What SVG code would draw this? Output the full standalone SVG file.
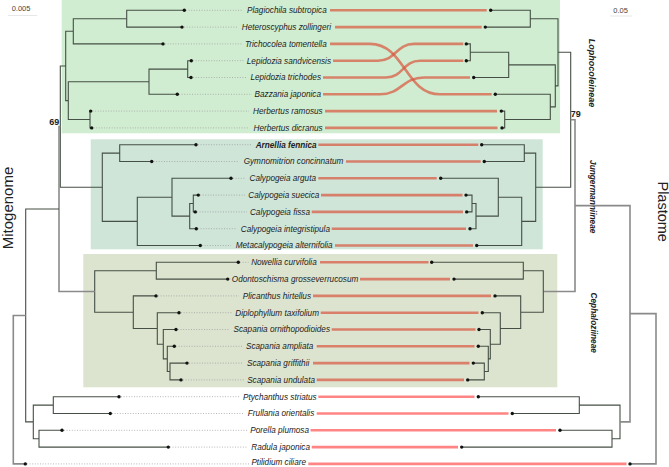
<svg xmlns="http://www.w3.org/2000/svg" width="669" height="467" viewBox="0 0 669 467">
<style>
.bg{stroke:none}
.tr{fill:none;stroke:#454f45;stroke-width:1.1}
.tg{fill:none;stroke:#8a8a8a;stroke-width:1.6}
.rl{fill:none;stroke:#d9563f;stroke-opacity:.7;stroke-width:2.6}
.ro{fill:none;stroke:#ff5c5c;stroke-opacity:.75;stroke-width:2.6}
.dl{stroke:#9a9a9a;stroke-width:.7;stroke-dasharray:1 1.6}
.lb{font-family:"Liberation Sans",Arial,sans-serif;font-size:8.2px;font-style:italic;fill:#222;text-anchor:end}
.gl{font-family:"Liberation Sans",Arial,sans-serif;font-style:italic;font-weight:bold;fill:#222;text-anchor:middle}
.ax{font-family:"Liberation Sans",Arial,sans-serif;font-size:15px;fill:#222;text-anchor:middle}
.sc{font-family:"Liberation Sans",Arial,sans-serif;font-size:7.5px;fill:#444}
.bs{font-family:"Liberation Sans",Arial,sans-serif;font-size:9px;font-weight:bold;fill:#222}
</style>
<defs>
<circle id="d" r="1.7" fill="#111"/>
</defs>
<rect width="669" height="467" fill="#fff"/>
<g id="clades">
<rect class="bg" x="61.7" y="0" width="498.3" height="133.3" fill="#d1edd1"/>
<rect class="bg" x="90.7" y="139.3" width="452" height="110" fill="#cfe5d8"/>
<rect class="bg" x="83.3" y="254" width="474" height="133.3" fill="#dce4cf"/>
</g>
<g id="scales">
<text class="sc" x="11.7" y="10.8">0.005</text>
<line x1="8" y1="15.5" x2="37.3" y2="15.5" stroke="#ddd" stroke-width=".7"/>
<text class="sc" x="613.3" y="13">0.05</text>
<line x1="610" y1="16" x2="632" y2="16" stroke="#ddd" stroke-width=".7"/>
</g>
<g id="axis-labels">
<text class="ax" transform="translate(12.7,208) rotate(-90)">Mitogenome</text>
<text class="ax" style="font-size:14.5px" transform="translate(657.5,211.7) rotate(90)">Plastome</text>
<text class="gl" style="font-size:9px" transform="translate(589.3,73) rotate(90)">Lophocoleineae</text>
<text class="gl" style="font-size:8.3px" transform="translate(590.3,196.7) rotate(90)">Jungermanniineae</text>
<text class="gl" style="font-size:8.3px" transform="translate(591.3,322.7) rotate(90)">Cephaloziineae</text>
<text class="bs" x="49.3" y="124.5">69</text>
<text class="bs" x="570.7" y="117.3">79</text>
</g>
<g id="connectors">
<g id="mito-tree">
<path class="tr" d="M184.3,10.3H126.7V27.1H182M126.7,18.7H73.3V43.9H163M191.3,60.7H187.7V77.5H191M187.7,69.1H149V94.3H177.3M90.7,111.1H90V127.9H91.7M149,81.7H68.3V119.5H90M73.3,31.3H65.7V100.6H68.3M65.7,66H60.3V187.2H102.3"/>
<path class="tr" d="M196,144.7H119.7V161.5H151.7M198.3,195.1H193.3V211.9H195.3M193.3,203.5H189.7V228.7H196.3M231,178.3H172V216.1H189.7M172,197.2H137.3V245.5H200.3M119.7,153.1H102.3V221.35H137.3"/>
<path class="tr" d="M238.3,262.3H156.3V279.1H227.7M187,363.1H170V379.9H181M174.3,346.3H167.3V371.5H170M176,329.5H163.3V358.9H167.3M179,312.7H157.3V344.2H163.3M156,295.9H133.3V328.45H157.3M156.3,270.7H94.7V312.2H133.3"/>
<path class="tg" d="M60.3,126.6H59V291.45H94.7"/>
<path class="tr" d="M119,396.7H53.3V413.5H110.3M62,430.3H39V447.1H168.3M53.3,405.1H33.3V438.7H39M59,209H25.7V421.9H33.3"/>
<path class="tg" d="M25.7,315.45H13.3V463.9H25.3"/>
</g>
<g id="plastome-tree">
<path class="tr" d="M490.7,10.3H530.3V27.1H485.3M466.3,43.9H470.3V60.7H466.3M470.3,52.3H508.7V77.5H473.7M501.3,111.1H504.7V127.9H502M495.3,94.3H550.3V119.5H504.7M508.7,64.9H555.3V106.9H550.3M530.3,18.7H558V85.9H555.3M558,52.3H570.7V187.2H535.7"/>
<path class="tg" d="M570.7,119.8H575V291.45H543.3"/>
<path class="tr" d="M481.7,144.7H524.3V161.5H484.3M466,195.1H472V211.9H466.7M472,203.5H476V228.7H470M440.7,178.3H498.3V216.1H476M498.3,197.2H521.7V245.5H476.7M524.3,153.1H535.7V221.35H521.7"/>
<path class="tr" d="M431.7,262.3H523.3V279.1H454M473.3,363.1H484.3V379.9H467.7M478.3,346.3H488.3V371.5H484.3M479,329.5H490.3V358.9H488.3M482.3,312.7H500.3V344.2H490.3M495,295.9H520.7V328.45H500.3M523.3,270.7H543.3V312.2H520.7"/>
<path class="tr" d="M478.3,396.7H579.3V413.5H512.3M560,430.3H612V447.1H461.7M579.3,405.1H620V438.7H612"/>
<path class="tg" d="M575,205.65H630V421.9H620M630,313.6H656V463.9H630"/>
</g>
<g id="links">
<path class="rl" d="M330,10.3H486.7"/>
<path class="rl" d="M335,27.1H481.7"/>
<path class="rl" d="M330,43.9H370C405,43.9 405,94.3 440,94.3H491.7"/>
<path class="rl" d="M333,60.7H378C396,60.7 396,43.9 414,43.9H463.3"/>
<path class="rl" d="M323,77.5H386C403,77.5 403,60.7 420,60.7H463.3"/>
<path class="rl" d="M323,94.3H380C402,94.3 402,77.5 424,77.5H470"/>
<path class="rl" d="M325,111.1H497"/>
<path class="rl" d="M325,127.9H497.5"/>
<path class="rl" d="M318.3,144.7H478.3"/>
<path class="rl" d="M346,161.5H480.7"/>
<path class="rl" d="M318.3,178.3H436.7"/>
<path class="rl" d="M321,195.1H462.5"/>
<path class="rl" d="M311.7,211.9H463"/>
<path class="rl" d="M331.7,228.7H466"/>
<path class="rl" d="M335,245.5H473"/>
<path class="rl" d="M320,262.3H428.5"/>
<path class="rl" d="M360,279.1H450"/>
<path class="rl" d="M313,295.9H491"/>
<path class="rl" d="M320.7,312.7H478.5"/>
<path class="rl" d="M331.7,329.5H475.5"/>
<path class="rl" d="M316.7,346.3H474.5"/>
<path class="rl" d="M313,363.1H469.5"/>
<path class="rl" d="M316.7,379.9H464"/>
<path class="ro" d="M318.3,396.7H474.5"/>
<path class="ro" d="M316.7,413.5H508.5"/>
<path class="ro" d="M310.5,430.3H556"/>
<path class="ro" d="M311.7,447.1H458"/>
<path class="ro" d="M308.3,463.9H626.5"/>
</g>
</g>
<g id="taxa">
<g id="t00"><line class="dl" x1="186" y1="10.3" x2="243" y2="10.3"/><use href="#d" x="184.3" y="10.3"/><use href="#d" x="490.7" y="10.3"/><text class="lb" x="326.7" y="13.2">Plagiochila subtropica</text></g>
<g id="t01"><line class="dl" x1="184" y1="27.1" x2="238" y2="27.1"/><use href="#d" x="182" y="27.1"/><use href="#d" x="485.3" y="27.1"/><text class="lb" x="331" y="30">Heteroscyphus zollingeri</text></g>
<g id="t02"><line class="dl" x1="165" y1="43.9" x2="242" y2="43.9"/><use href="#d" x="163" y="43.9"/><use href="#d" x="495.3" y="94.3"/><text class="lb" x="326.7" y="46.8">Trichocolea tomentella</text></g>
<g id="t03"><line class="dl" x1="193" y1="60.7" x2="244" y2="60.7"/><use href="#d" x="191.3" y="60.7"/><use href="#d" x="466.3" y="43.9"/><text class="lb" x="331" y="63.6">Lepidozia sandvicensis</text></g>
<g id="t04"><line class="dl" x1="193" y1="77.5" x2="247" y2="77.5"/><use href="#d" x="191" y="77.5"/><use href="#d" x="466.3" y="60.7"/><text class="lb" x="321" y="80.4">Lepidozia trichodes</text></g>
<g id="t05"><line class="dl" x1="179" y1="94.3" x2="252" y2="94.3"/><use href="#d" x="177.3" y="94.3"/><use href="#d" x="473.7" y="77.5"/><text class="lb" x="321" y="97.2">Bazzania japonica</text></g>
<g id="t06"><line class="dl" x1="92.5" y1="111.1" x2="249" y2="111.1"/><use href="#d" x="90.7" y="111.1"/><use href="#d" x="501.3" y="111.1"/><text class="lb" x="322.7" y="114">Herbertus ramosus</text></g>
<g id="t07"><line class="dl" x1="93.5" y1="127.9" x2="249" y2="127.9"/><use href="#d" x="91.7" y="127.9"/><use href="#d" x="502" y="127.9"/><text class="lb" x="322.7" y="130.8">Herbertus dicranus</text></g>
<g id="t08"><line class="dl" x1="198" y1="144.7" x2="252" y2="144.7"/><use href="#d" x="196" y="144.7"/><use href="#d" x="481.7" y="144.7"/><text class="lb" x="316.7" y="147.6" font-weight="bold">Arnellia fennica</text></g>
<g id="t09"><line class="dl" x1="153.5" y1="161.5" x2="239" y2="161.5"/><use href="#d" x="151.7" y="161.5"/><use href="#d" x="484.3" y="161.5"/><text class="lb" x="343.3" y="164.4">Gymnomitrion concinnatum</text></g>
<g id="t10"><line class="dl" x1="233" y1="178.3" x2="245" y2="178.3"/><use href="#d" x="231" y="178.3"/><use href="#d" x="440.7" y="178.3"/><text class="lb" x="316" y="181.2">Calypogeia arguta</text></g>
<g id="t11"><line class="dl" x1="200" y1="195.1" x2="245" y2="195.1"/><use href="#d" x="198.3" y="195.1"/><use href="#d" x="466" y="195.1"/><text class="lb" x="319.3" y="198">Calypogeia suecica</text></g>
<g id="t12"><line class="dl" x1="197" y1="211.9" x2="247" y2="211.9"/><use href="#d" x="195.3" y="211.9"/><use href="#d" x="466.7" y="211.9"/><text class="lb" x="310" y="214.8">Calypogeia fissa</text></g>
<g id="t13"><line class="dl" x1="198" y1="228.7" x2="236" y2="228.7"/><use href="#d" x="196.3" y="228.7"/><use href="#d" x="470" y="228.7"/><text class="lb" x="330" y="231.6">Calypogeia integristipula</text></g>
<g id="t14"><line class="dl" x1="202" y1="245.5" x2="231" y2="245.5"/><use href="#d" x="200.3" y="245.5"/><use href="#d" x="476.7" y="245.5"/><text class="lb" x="332.7" y="248.4">Metacalypogeia alternifolia</text></g>
<g id="t15"><line class="dl" x1="240" y1="262.3" x2="248.5" y2="262.3"/><use href="#d" x="238.3" y="262.3"/><use href="#d" x="431.7" y="262.3"/><text class="lb" x="316.7" y="265.2">Nowellia curvifolia</text></g>
<g id="t16"><line class="dl" x1="229.5" y1="279.1" x2="231" y2="279.1"/><use href="#d" x="227.7" y="279.1"/><use href="#d" x="454" y="279.1"/><text class="lb" x="358.3" y="282">Odontoschisma grosseverrucosum</text></g>
<g id="t17"><line class="dl" x1="158" y1="295.9" x2="239" y2="295.9"/><use href="#d" x="156" y="295.9"/><use href="#d" x="495" y="295.9"/><text class="lb" x="311" y="298.8">Plicanthus hirtellus</text></g>
<g id="t18"><line class="dl" x1="181" y1="312.7" x2="232.5" y2="312.7"/><use href="#d" x="179" y="312.7"/><use href="#d" x="482.3" y="312.7"/><text class="lb" x="319" y="315.6">Diplophyllum taxifolium</text></g>
<g id="t19"><line class="dl" x1="178" y1="329.5" x2="229" y2="329.5"/><use href="#d" x="176" y="329.5"/><use href="#d" x="479" y="329.5"/><text class="lb" x="330" y="332.4">Scapania ornithopodioides</text></g>
<g id="t20"><line class="dl" x1="176" y1="346.3" x2="243" y2="346.3"/><use href="#d" x="174.3" y="346.3"/><use href="#d" x="478.3" y="346.3"/><text class="lb" x="313.3" y="349.2">Scapania ampliata</text></g>
<g id="t21"><line class="dl" x1="189" y1="363.1" x2="243.5" y2="363.1"/><use href="#d" x="187" y="363.1"/><use href="#d" x="473.3" y="363.1"/><text class="lb" x="309.3" y="366">Scapania griffithii</text></g>
<g id="t22"><line class="dl" x1="183" y1="379.9" x2="244" y2="379.9"/><use href="#d" x="181" y="379.9"/><use href="#d" x="467.7" y="379.9"/><text class="lb" x="315" y="382.8">Scapania undulata</text></g>
<g id="t23"><line class="dl" x1="121" y1="396.7" x2="239" y2="396.7"/><use href="#d" x="119" y="396.7"/><use href="#d" x="478.3" y="396.7"/><text class="lb" x="316.7" y="399.6">Ptychanthus striatus</text></g>
<g id="t24"><line class="dl" x1="112" y1="413.5" x2="244" y2="413.5"/><use href="#d" x="110.3" y="413.5"/><use href="#d" x="512.3" y="413.5"/><text class="lb" x="314.3" y="416.4">Frullania orientalis</text></g>
<g id="t25"><line class="dl" x1="64" y1="430.3" x2="247" y2="430.3"/><use href="#d" x="62" y="430.3"/><use href="#d" x="560" y="430.3"/><text class="lb" x="309" y="433.2">Porella plumosa</text></g>
<g id="t26"><line class="dl" x1="170" y1="447.1" x2="248" y2="447.1"/><use href="#d" x="168.3" y="447.1"/><use href="#d" x="461.7" y="447.1"/><text class="lb" x="310" y="450">Radula japonica</text></g>
<g id="t27"><line class="dl" x1="27" y1="463.9" x2="249" y2="463.9"/><use href="#d" x="25.3" y="463.9"/><use href="#d" x="630" y="463.9"/><text class="lb" x="306" y="465">Ptilidium ciliare</text></g>
</g>
</svg>
